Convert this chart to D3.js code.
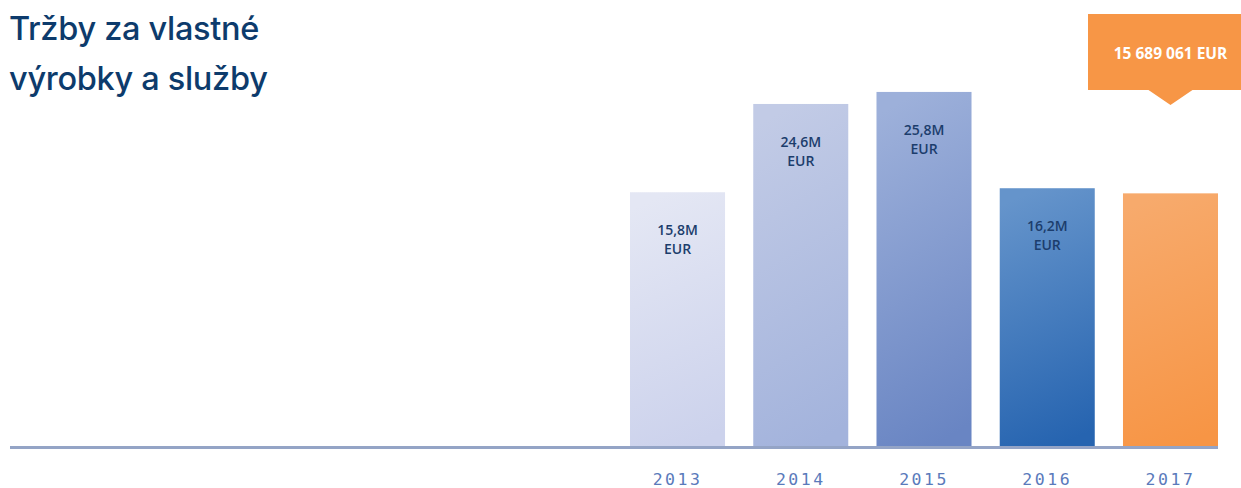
<!DOCTYPE html>
<html>
<head>
<meta charset="utf-8">
<script src="https://cdn.jsdelivr.net/npm/d3@7"></script>
<style>
  html, body { margin: 0; padding: 0; background: #fff; }
  svg { display: block; }
</style>
</head>
<body>
<svg id="chart" width="1241" height="488"></svg>
<script>
// Revenue from own products and services, in millions of EUR
const years = ["2013", "2014", "2015", "2016", "2017"];
const revenue = [15.8, 24.6, 25.8, 16.2, 15.689061];
const valueLabels = ["15,8M", "24,6M", "25,8M", "16,2M", ""];
const highlightLabel = "15 689 061 EUR";
const titleLines = ["Tržby za vlastné", "výrobky a služby"];

// Gradient stops (top, bottom) per bar
const barColors = [
  ["#e4e7f4", "#ccd2ec"],
  ["#c2cbe6", "#a3b3dc"],
  ["#9db0da", "#6985c3"],
  ["#6594cb", "#2664b0"],
  ["#f7aa6c", "#f79545"]
];

const data = years.map((y, i) => ({ year: y, value: revenue[i], label: valueLabels[i], colors: barColors[i] }));

const svg = d3.select("#chart");
const baseY = 447;

const x = d3.scaleBand()
  .domain(years)
  .range([630, 1218])
  .paddingInner(0.229)
  .paddingOuter(0);

// Value axis with an offset floor, as drawn in the annual report
const y = d3.scaleLinear()
  .domain([-9.6, 30])
  .range([baseY, baseY - 39.6 * 10.03]);

const defs = svg.append("defs");
data.forEach((d, i) => {
  const g = defs.append("linearGradient")
    .attr("id", "grad" + i)
    .attr("x1", "0.42").attr("y1", "0")
    .attr("x2", "0.58").attr("y2", "1");
  g.append("stop").attr("offset", "0%").attr("stop-color", d.colors[0]);
  g.append("stop").attr("offset", "100%").attr("stop-color", d.colors[1]);
});

// Title
svg.append("g")
  .selectAll("text")
  .data(titleLines)
  .join("text")
  .attr("x", 9)
  .attr("y", (d, i) => 40 + i * 50)
  .attr("font-family", "Inter, 'Noto Sans', sans-serif")
  .attr("font-weight", 500)
  .attr("font-size", 32.5)
  .attr("letter-spacing", "-0.3")
  .attr("fill", "#0d3b6c")
  .text(d => d);

// Bars
svg.append("g")
  .selectAll("rect")
  .data(data)
  .join("rect")
  .attr("x", d => x(d.year))
  .attr("width", x.bandwidth())
  .attr("y", d => y(d.value))
  .attr("height", d => y(y.domain()[0]) - y(d.value))
  .attr("fill", (d, i) => `url(#grad${i})`);

// Value labels inside bars
const lbl = svg.append("g")
  .selectAll("text")
  .data(data.filter(d => d.label))
  .join("text")
  .attr("text-anchor", "middle")
  .attr("font-family", "'Open Sans', sans-serif")
  .attr("font-weight", 600)
  .attr("font-size", 14)
  .attr("fill", "#1c3d6c");
lbl.append("tspan")
  .attr("x", d => x(d.year) + x.bandwidth() / 2)
  .attr("y", d => y(d.value) + 43)
  .text(d => d.label);
lbl.append("tspan")
  .attr("x", d => x(d.year) + x.bandwidth() / 2)
  .attr("dy", 19)
  .text("EUR");

// Baseline
svg.append("line")
  .attr("x1", 10).attr("x2", 1218)
  .attr("y1", baseY + 0.5).attr("y2", baseY + 0.5)
  .attr("stroke", "#94a4c6")
  .attr("stroke-width", 3);

// Year axis
const axis = svg.append("g")
  .attr("transform", `translate(0,${baseY})`)
  .call(d3.axisBottom(x).tickSize(0).tickPadding(0));
axis.select(".domain").remove();
axis.selectAll("text")
  .attr("y", 38)
  .attr("dy", 0)
  .attr("font-family", "'DejaVu Sans Mono', monospace")
  .attr("font-size", 16.5)
  .attr("letter-spacing", "2.5")
  .attr("fill", "#5a7abb");

// Highlight callout above the latest year
const last = data[data.length - 1];
const cx = x(last.year) + x.bandwidth() / 2;
const call = svg.append("g");
call.append("path")
  .attr("d", `M1088,14 H1241 V90 H${cx + 22} L${cx},105 L${cx - 22},90 H1088 Z`)
  .attr("fill", "#f79646");
call.append("text")
  .attr("x", cx)
  .attr("y", 59)
  .attr("text-anchor", "middle")
  .attr("font-family", "'Open Sans', sans-serif")
  .attr("font-weight", 700)
  .attr("font-size", 15.5)
  .attr("fill", "#ffffff")
  .text(highlightLabel);
</script>
</body>
</html>
